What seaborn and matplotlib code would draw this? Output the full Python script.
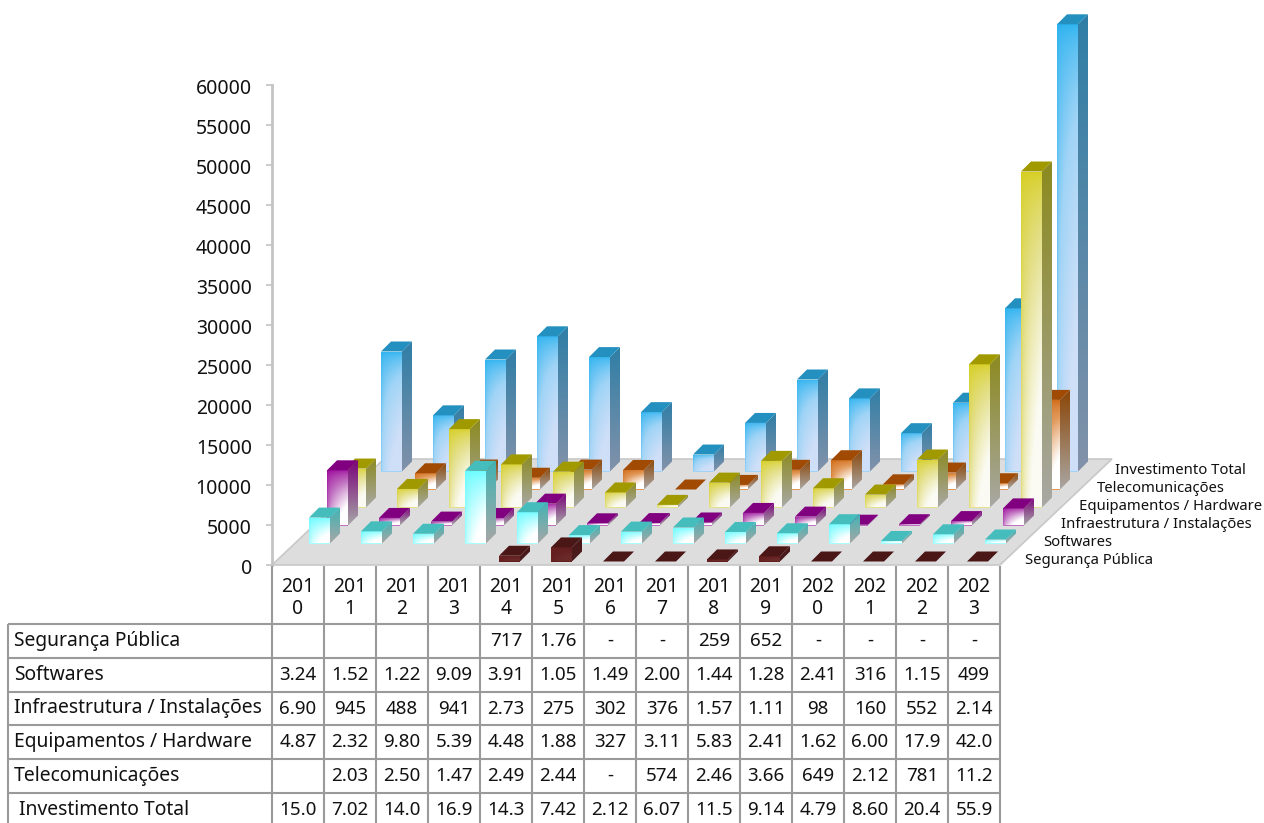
import numpy as np
import pandas as pd
import seaborn as sns
import matplotlib.pyplot as plt
from matplotlib.colors import LinearSegmentedColormap
from matplotlib.patches import Polygon
from matplotlib.transforms import ScaledTranslation

years = ['2010', '2011', '2012', '2013', '2014', '2015', '2016', '2017', '2018', '2019', '2020', '2021', '2022', '2023']

# values, front row first (nan = empty cell in the table)
seguranca = [np.nan, np.nan, np.nan, np.nan, 717, 1760, 0, 0, 259, 652, 0, 0, 0, 0]
softwares = [3240, 1520, 1220, 9090, 3910, 1050, 1490, 2000, 1440, 1280, 2410, 316, 1150, 499]
infra = [6900, 945, 488, 941, 2730, 275, 302, 376, 1570, 1110, 98, 160, 552, 2140]
equip = [4870, 2320, 9800, 5390, 4480, 1880, 327, 3110, 5830, 2410, 1620, 6000, 17900, 42000]
telecom = [np.nan, 2030, 2500, 1470, 2490, 2440, 0, 574, 2460, 3660, 649, 2120, 781, 11200]
total = [15000, 7020, 14000, 16900, 14300, 7420, 2120, 6070, 11500, 9140, 4790, 8600, 20400, 55900]

series_names = ['Segurança Pública', 'Softwares', 'Infraestrutura / Instalações',
                'Equipamentos / Hardware', 'Telecomunicações', 'Investimento Total']
series_values = [seguranca, softwares, infra, equip, telecom, total]

# table text is cut off in the original cells, so it is kept as shown
table_labels = ['Segurança Pública', 'Softwares', 'Infraestrutura / Instalações',
                'Equipamentos / Hardware', 'Telecomunicações', ' Investimento Total']
table_seguranca = ['', '', '', '', '717', '1.76', '-', '-', '259', '652', '-', '-', '-', '-']
table_softwares = ['3.24', '1.52', '1.22', '9.09', '3.91', '1.05', '1.49', '2.00', '1.44', '1.28', '2.41', '316', '1.15', '499']
table_infra = ['6.90', '945', '488', '941', '2.73', '275', '302', '376', '1.57', '1.11', '98', '160', '552', '2.14']
table_equip = ['4.87', '2.32', '9.80', '5.39', '4.48', '1.88', '327', '3.11', '5.83', '2.41', '1.62', '6.00', '17.9', '42.0']
table_telecom = ['', '2.03', '2.50', '1.47', '2.49', '2.44', '-', '574', '2.46', '3.66', '649', '2.12', '781', '11.2']
table_total = ['15.0', '7.02', '14.0', '16.9', '14.3', '7.42', '2.12', '6.07', '11.5', '9.14', '4.79', '8.60', '20.4', '55.9']
table_rows = [table_seguranca, table_softwares, table_infra, table_equip, table_telecom, table_total]

# front top, front mid, front bottom, side top, side bottom, top face
colors = [
    ('#6b2222', '#641f1f', '#6b2a2a', '#4a1414', '#4a1f1f', '#4a1616'),
    ('#5ffcff', '#a8fdff', '#ffffff', '#3fb4b4', '#a6a6a6', '#45bdbd'),
    ('#990099', '#c070c0', '#ffffff', '#7a007a', '#a6a6a6', '#800080'),
    ('#d6ce1e', '#e4e08c', '#fbfbf4', '#8c8a1e', '#a8a8a4', '#a09a00'),
    ('#cf640c', '#e29a5c', '#ffffff', '#8a4404', '#aaa6a2', '#a04a04'),
    ('#29b2f0', '#a0d4f6', '#cfdff8', '#2f7ea6', '#8292aa', '#2490c0'),
]

W, H = 1264, 823
plot_left, plot_right = 272, 1000
plot_top, plot_bottom = 85, 565
row_step = 18
row_start = 3.5
bar_px = 21
depth_px = 10

sns.set_theme(style='white')
plt.rcParams['font.family'] = ['Noto Sans', 'DejaVu Sans']
text_color = '#111111'
table_size = 13.9

fig = plt.figure(figsize=(W / 100, H / 100), dpi=100)
fig.patch.set_facecolor('white')

px_x = (len(years)) / (plot_right - plot_left)
px_y = 60000 / (plot_bottom - plot_top)

# base axes holds the value axis and the floor
base = fig.add_axes([plot_left / W, (H - plot_bottom) / H, (plot_right - plot_left) / W, (plot_bottom - plot_top) / H])
base.set_facecolor('none')
base.set_xlim(-0.5, len(years) - 0.5)
base.set_ylim(0, 60000)
base.set_xticks([])
base.set_yticks(np.arange(0, 60001, 5000))
base.tick_params(axis='y', left=True, length=4.5, width=1.2, color='#c4c4c4', labelsize=14, labelcolor=text_color, pad=10)
nudge = ScaledTranslation(0, -1.5 / 100, fig.dpi_scale_trans)
for lbl in base.get_yticklabels():
    lbl.set_transform(lbl.get_transform() + nudge)
for side in ['top', 'right', 'bottom']:
    base.spines[side].set_visible(False)
base.spines['left'].set_color('#c4c4c4')
base.spines['left'].set_linewidth(2)

x0, x1 = -0.5, len(years) - 0.5
floor_dx, floor_dy = 112 * px_x, 106 * px_y
base.add_patch(Polygon([(x0, 0), (x1, 0), (x1 + floor_dx, floor_dy), (x0 + floor_dx, floor_dy)],
                       facecolor='#dddddd', edgecolor='#c8c8c8', linewidth=1.2, clip_on=False))


def gradient(ax, stops, x_a, x_b, y_a, y_b, clip_pts, zorder, sweep=False):
    cmap = LinearSegmentedColormap.from_list('g', stops)
    v = np.linspace(0, 1, 256).reshape(-1, 1)
    if sweep:
        # the light comes in from the lower right, the left edge keeps its colour
        u = np.linspace(0, 1, 32).reshape(1, -1)
        shade = np.clip(v ** 0.6 * (0.4 + 0.9 * u ** 0.5), 0, 1)
    else:
        shade = v
    im = ax.imshow(shade, cmap=cmap, vmin=0, vmax=1, aspect='auto', origin='upper',
                   extent=(x_a, x_b, y_a, y_b), zorder=zorder, interpolation='bilinear')
    im.set_clip_box(fig.bbox)
    im.set_clip_path(Polygon(clip_pts, transform=ax.transData))


# back row first so the front rows sit on top
for i in reversed(range(len(series_names))):
    shift = row_start + row_step * i
    ax = fig.add_axes([(plot_left + shift) / W, (H - plot_bottom + shift) / H,
                       (plot_right - plot_left) / W, (plot_bottom - plot_top) / H])
    df = pd.DataFrame({'year': years, 'value': series_values[i]})
    sns.barplot(data=df, x='year', y='value', order=years, color=colors[i][0], errorbar=None,
                width=bar_px / 52, linewidth=0, ax=ax)
    front_top, front_mid, front_bot, side_top, side_bot, top_col = colors[i]
    dx, dy = depth_px * px_x, depth_px * px_y
    for bar in list(ax.patches):
        h = bar.get_height()
        if np.isnan(h):
            continue
        bar.set_facecolor(front_mid)
        xa = bar.get_x()
        xb = xa + bar.get_width()
        if h > 0:
            gradient(ax, [front_top, front_mid, front_bot], xa, xb, 0, h,
                     [(xa, 0), (xb, 0), (xb, h), (xa, h)], 3, sweep=True)
            gradient(ax, [side_top, side_bot], xb, xb + dx, 0, h + dy,
                     [(xb, 0), (xb + dx, dy), (xb + dx, h + dy), (xb, h)], 3)
        ax.add_patch(Polygon([(xa, h), (xb, h), (xb + dx, h + dy), (xa + dx, h + dy)],
                             facecolor=top_col, edgecolor='none', zorder=3, clip_on=False))
    ax.set_xlim(-0.5, len(years) - 0.5)
    ax.set_ylim(0, 60000)
    ax.axis('off')
    # depth axis label, at the right end of its row
    ax.annotate(series_names[i], xy=(1, 0), xycoords='axes fraction', xytext=(21.5 * 0.72, 1.5 * 0.72),
                textcoords='offset points', ha='left', va='center', fontsize=10.7, color=text_color,
                annotation_clip=False)

# data table, drawn in pixel space on a full figure overlay
tab = fig.add_axes([0, 0, 1, 1])
tab.set_facecolor('none')
tab.set_xlim(0, W)
tab.set_ylim(H, 0)
tab.axis('off')

line_col = '#9a9a9a'
label_left = 8
col_w = (plot_right - plot_left) / len(years)
head_bottom = 624
row_h = 33.8

for k in range(len(years) + 1):
    tab.plot([plot_left + k * col_w] * 2, [plot_bottom + 1, H], color=line_col, lw=1.5, solid_capstyle='butt')
tab.plot([label_left, label_left], [head_bottom, H], color=line_col, lw=1.5, solid_capstyle='butt')
for r in range(len(table_rows)):
    y = head_bottom + r * row_h
    tab.plot([label_left, plot_right], [y, y], color=line_col, lw=1.5, solid_capstyle='butt')

for k, year in enumerate(years):
    xc = plot_left + (k + 0.5) * col_w
    tab.text(xc, 587, year[:3], ha='center', va='center', fontsize=table_size, color=text_color)
    tab.text(xc, 609, year[3:], ha='center', va='center', fontsize=table_size, color=text_color)

for r, row in enumerate(table_rows):
    yc = head_bottom + (r + 0.5) * row_h
    tab.text(label_left + 6, yc, table_labels[r], ha='left', va='center', fontsize=table_size, color=text_color)
    for k, cell in enumerate(row):
        tab.text(plot_left + (k + 0.5) * col_w, yc, cell, ha='center', va='center', fontsize=13.5, color=text_color)

fig.savefig('out.png', dpi=100)
